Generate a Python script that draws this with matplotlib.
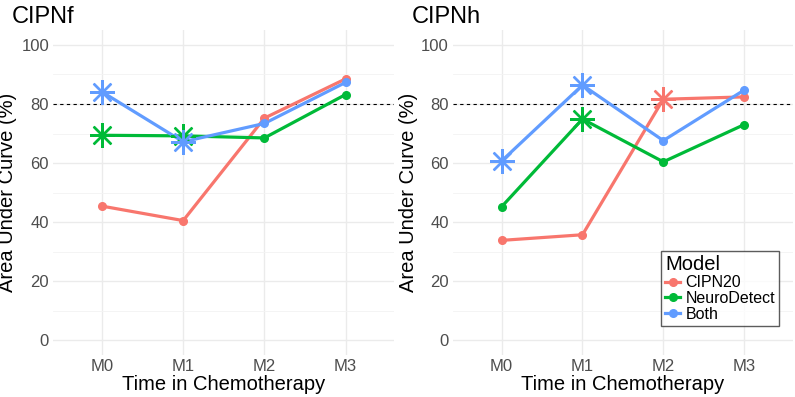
import matplotlib.pyplot as plt

plt.rcParams["font.family"] = ["Liberation Sans", "DejaVu Sans"]

# time points and model names
times = ["M0", "M1", "M2", "M3"]
models = ["CIPN20", "NeuroDetect", "Both"]
colors = ["#F8766D", "#00BA38", "#619CFF"]

# AUC (%) per panel, one list per model
cipnf_cipn20 = [45.4, 40.5, 75.2, 88.5]
cipnf_neuro = [69.4, 69.2, 68.5, 83.2]
cipnf_both = [84.1, 67.2, 73.4, 87.3]

cipnh_cipn20 = [33.8, 35.7, 81.6, 82.4]
cipnh_neuro = [45.2, 74.9, 60.4, 73.0]
cipnh_both = [60.7, 86.4, 67.6, 84.7]

# which points get the asterisk (significant)
cipnf_star_cipn20 = [False, False, False, False]
cipnf_star_neuro = [True, True, False, False]
cipnf_star_both = [True, True, False, False]

cipnh_star_cipn20 = [False, False, True, False]
cipnh_star_neuro = [False, True, False, False]
cipnh_star_both = [True, True, False, False]

panels = [
    ("CIPNf", [cipnf_cipn20, cipnf_neuro, cipnf_both],
     [cipnf_star_cipn20, cipnf_star_neuro, cipnf_star_both]),
    ("CIPNh", [cipnh_cipn20, cipnh_neuro, cipnh_both],
     [cipnh_star_cipn20, cipnh_star_neuro, cipnh_star_both]),
]

fig = plt.figure(figsize=(7.95, 3.97), dpi=100)
ax_pos = [[0.067, 0.106, 0.429, 0.818], [0.570, 0.106, 0.427, 0.818]]
title_x = [0.015, 0.518]

x = list(range(len(times)))
for i, (title, series, stars) in enumerate(panels):
    ax = fig.add_axes(ax_pos[i])
    for vals, flags, col, name in zip(series, stars, colors, models):
        ax.plot(x, vals, color=col, lw=2.3, zorder=3)
        xs = [xi for xi, f in zip(x, flags) if not f]
        ys = [v for v, f in zip(vals, flags) if not f]
        ax.plot(xs, ys, "o", color=col, ms=5.5, zorder=4, label=name)
        xs = [xi for xi, f in zip(x, flags) if f]
        ys = [v for v, f in zip(vals, flags) if f]
        ax.plot(xs, ys, marker=(8, 2, 0), ls="none", color=col, ms=18,
                mew=1.7, zorder=4)
    ax.axhline(80, color="black", ls=(0, (3, 3)), lw=0.8, zorder=2)

    ax.set_xlim(-0.6, 3.6)
    ax.set_ylim(-5, 105)
    ax.set_xticks(x)
    ax.set_xticklabels(times)
    ax.set_yticks([0, 20, 40, 60, 80, 100])
    ax.set_yticks([10, 30, 50, 70, 90], minor=True)
    ax.grid(True, which="major", color="#EBEBEB", lw=1.0, zorder=0)
    ax.grid(True, which="minor", axis="y", color="#F3F3F3", lw=0.6, zorder=0)
    for s in ax.spines.values():
        s.set_visible(False)
    ax.tick_params(which="both", length=0, labelsize=12, labelcolor="#4D4D4D",
                   pad=3)
    ax.set_xlabel("Time in Chemotherapy", fontsize=14.5, labelpad=1)
    ax.set_ylabel("Area Under Curve (%)", fontsize=14.5)
    ax.yaxis.set_label_coords(-0.105, 0.5)
    fig.text(title_x[i], 0.985, title, fontsize=17, va="top", ha="left")

    if i == 1:
        leg = ax.legend(loc="lower right", bbox_to_anchor=(0.96, 0.09),
                        title="Model", fontsize=11.5, title_fontsize=14.5,
                        frameon=True, fancybox=False, handlelength=0.9,
                        handletextpad=0.35, borderpad=0.25, labelspacing=0.05,
                        borderaxespad=0)
        leg._legend_box.align = "left"
        leg.get_frame().set_edgecolor("#333333")
        leg.get_frame().set_linewidth(1.0)
        for h, col in zip(leg.legend_handles, colors):
            h.set_linestyle("-")
            h.set_linewidth(2.3)

fig.savefig("out.png", dpi=100)
